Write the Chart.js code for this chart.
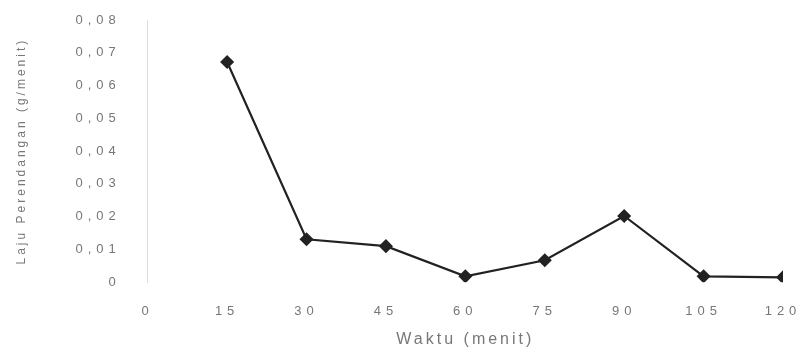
<!DOCTYPE html>
<html>
<head>
<meta charset="utf-8">
<script src="https://cdn.jsdelivr.net/npm/chart.js@4/dist/chart.umd.min.js"></script>
<style>
  html, body { margin: 0; padding: 0; background: #fff; }
  #wrap { width: 798px; height: 349px; }
</style>
</head>
<body>
<div id="wrap"><canvas id="laju"></canvas></div>
<script>
// waktu (menit) dan laju per titik
const waktu = [15, 30, 45, 60, 75, 90, 105, 120];
const laju = [0.0672, 0.0131, 0.0110, 0.0018, 0.0067, 0.0202, 0.0018, 0.0015];
const xTicks = [0, 15, 30, 45, 60, 75, 90, 105, 120];
const yTicks = [0, 0.01, 0.02, 0.03, 0.04, 0.05, 0.06, 0.07, 0.08];

const points = waktu.map((w, i) => ({ x: w, y: laju[i] }));

// huruf renggang: judul 3px, label angka 5px (label digambar setelah garis)
const spacing = {
  id: 'spacing',
  beforeLayout(chart) { chart.ctx.letterSpacing = '5px'; },
  beforeDraw(chart) { chart.ctx.letterSpacing = '3px'; },
  afterDatasetsDraw(chart) { chart.ctx.letterSpacing = '5px'; }
};

const ctx = document.getElementById('laju').getContext('2d');
const lajuChart = new Chart(ctx, {
  type: 'line',
  data: {
    datasets: [{
      label: 'Laju',
      data: points,
      borderColor: '#222',
      backgroundColor: '#222',
      borderWidth: 2.2,
      pointStyle: 'rectRot',
      pointRadius: 5.5,
      fill: false,
      tension: 0
    }]
  },
  options: {
    responsive: true,
    maintainAspectRatio: false,
    animation: false,
    layout: { autoPadding: false, padding: { left: 14, right: 15, top: 20, bottom: 0 } },
    plugins: { legend: { display: false }, tooltip: { enabled: false } },
    scales: {
      x: {
        type: 'linear',
        min: 0, max: 120,
        afterBuildTicks: (axis) => { axis.ticks = xTicks.map(v => ({ value: v })); },
        afterFit: (axis) => { axis.paddingLeft = 0; axis.paddingRight = 0; },
        grid: { display: false, tickLength: 10 },
        border: { display: false },
        ticks: { z: 1, color: '#777', font: { family: 'Liberation Sans', size: 13 }, padding: 11 },
        title: { display: true, text: 'Waktu (menit)', color: '#777', font: { family: 'Liberation Sans', size: 16 }, padding: 0 }
      },
      y: {
        min: 0, max: 0.08,
        afterBuildTicks: (axis) => { axis.ticks = yTicks.map(v => ({ value: v })); },
        afterFit: (axis) => { axis.paddingTop = 0; axis.paddingBottom = 0; },
        grid: { display: false },
        border: { display: true, color: '#ddd' },
        ticks: {
          z: 1, color: '#777', font: { family: 'Liberation Sans', size: 13 }, padding: 19,
          callback: (v) => v === 0 ? '0' : v.toFixed(2).replace('.', ',')
        },
        title: { display: true, text: 'Laju Perendangan (g/menit)', color: '#777', font: { family: 'Liberation Sans', size: 12 }, padding: { top: 0, bottom: 28 } }
      }
    }
  },
  plugins: [spacing]
});
</script>
</body>
</html>
